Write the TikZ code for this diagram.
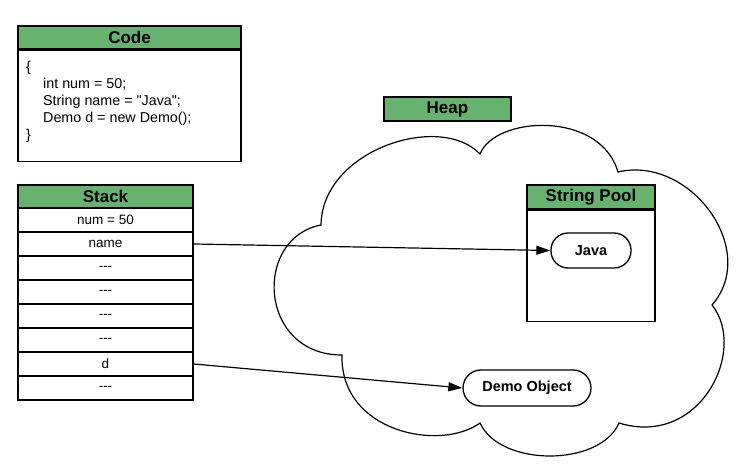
\documentclass[tikz,border=0pt]{standalone}
\usepackage{fontspec}
\setmainfont{Liberation Sans}[Ligatures=TeXOff]
\usetikzlibrary{arrows.meta}
\definecolor{hdrgreen}{RGB}{103,178,111}
\tikzset{
  box/.style={draw=black, line width=1.5pt, rectangle, inner sep=0pt, fill=white},
  header/.style={box, fill=hdrgreen, font=\fontsize{17}{20}\selectfont\bfseries},
  cell/.style={box, minimum width=175pt, minimum height=24pt, font=\fontsize{13.5}{16}\selectfont},
  pill/.style={draw=black, line width=1.3pt, rounded corners=17pt, inner sep=0pt, fill=white, font=\fontsize{14.5}{17}\selectfont\bfseries},
  link/.style={draw=black, line width=1.2pt, -{Triangle[length=14pt,width=9pt]}},
  cloudline/.style={draw=black, line width=1.2pt}
}
\begin{document}
\begin{tikzpicture}[x=1pt,y=-1pt]
\useasboundingbox (0,0) rectangle (755,470);

% heap cloud
\coordinate (c1) at (480,154);
\coordinate (c2) at (618,172);
\coordinate (c3) at (712,305);
\coordinate (c4) at (619,423);
\coordinate (c5) at (480,423);
\coordinate (c6) at (342,355);
\coordinate (c7) at (321,225);
\draw[cloudline]
  (c7) .. controls (322,150) and (440,112) .. (c1)
       .. controls (495,116) and (600,110) .. (c2)
       .. controls (690,155) and (760,250) .. (c3)
       .. controls (748,350) and (700,448) .. (c4)
       .. controls (600,467) and (500,467) .. (c5)
       .. controls (440,452) and (340,432) .. (c6)
       .. controls (258,355) and (253,238) .. (c7) -- cycle;

% code panel
\node[header, minimum width=223pt, minimum height=23pt] (codehdr) at (129.5,37.5) {Code};
\node[box, minimum width=223pt, minimum height=111pt, anchor=north] (codebody) at (codehdr.south) {};
\node[anchor=north west, inner sep=0pt, align=left, font=\fontsize{14.3}{17}\selectfont] (codetext) at (26,61)
  {\{\\
   \hspace*{17pt}int num = 50;\\
   \hspace*{17pt}String name = "Java";\\
   \hspace*{17pt}Demo d = new Demo();\\
   \}};

% stack
\node[header, minimum width=175pt, minimum height=23pt] (stackhdr) at (105.5,196.5) {Stack};
\foreach \lbl [count=\i] in {num = 50, name, ---, ---, ---, ---, d, ---}
  \node[cell] (s\i) at (105.5, 196+24*\i) {\lbl};

% heap label
\node[header, minimum width=127pt, minimum height=24pt] (heap) at (447.5,109) {Heap};

% string pool
\node[header, minimum width=128pt, minimum height=24pt] (poolhdr) at (591,197) {String Pool};
\node[box, minimum width=128pt, minimum height=111pt, anchor=north] (poolbody) at (poolhdr.south) {};
\node[pill, minimum width=80pt, minimum height=35pt] (java) at (591,250.5) {Java};

% object
\node[pill, minimum width=128pt, minimum height=36pt, rounded corners=18pt] (demo) at (527,388) {Demo Object};

% references
\draw[link] (s2.east) -- (java.west);
\draw[link] (s7.east) -- (demo.west);
\end{tikzpicture}
\end{document}
